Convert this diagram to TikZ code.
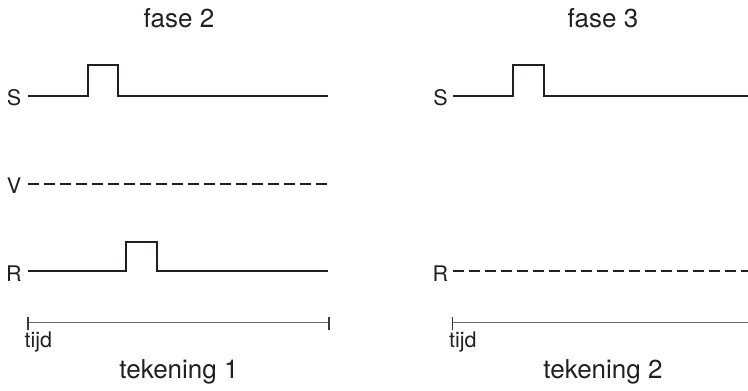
\documentclass[tikz,border=0pt]{standalone}
\usepackage{fontspec}
\setmainfont{TeX Gyre Heros}
\definecolor{ink}{HTML}{231F20}
\definecolor{axisgray}{HTML}{6E6E6E}
\definecolor{tickgray}{HTML}{3A3A3A}
\begin{document}
\begin{tikzpicture}[x=1pt,y=-1pt,
  signal/.style={draw=ink,line width=2pt,line join=miter},
  idle/.style={draw=ink,line width=2pt,dash pattern=on 11pt off 5pt},
  timeaxis/.style={draw=axisgray,line width=1.6pt},
  tickmark/.style={draw=tickgray,line width=1.4pt},
  chan/.style={text=ink,font=\fontsize{21.5}{23}\selectfont,inner sep=0pt},
  title/.style={text=ink,font=\fontsize{26}{28}\selectfont,inner sep=0pt},
  timelabel/.style={text=ink,font=\fontsize{21.5}{23}\selectfont,inner sep=0pt,anchor=base west}]
\useasboundingbox (0,0) rectangle (748,391);

% ---------- tekening 1 ----------
\node[title] (t1) at (179,18) {fase 2};
\node[chan] (s1) at (14,97.5) {S};
\node[chan] (v1) at (14,186) {V};
\node[chan] (r1) at (14,273.5) {R};

\coordinate (s1a) at (28,96);
\coordinate (s1b) at (88,96);
\coordinate (s1c) at (88,65);
\coordinate (s1d) at (118,65);
\coordinate (s1e) at (118,96);
\coordinate (s1f) at (328,96);
\draw[signal] (s1a) -- (s1b) -- (s1c) -- (s1d) -- (s1e) -- (s1f);

\coordinate (v1a) at (28,184);
\coordinate (v1b) at (328,184);
\draw[idle] (v1a) -- (v1b);

\coordinate (r1a) at (28,271);
\coordinate (r1b) at (125.5,271);
\coordinate (r1c) at (125.5,242);
\coordinate (r1d) at (156.5,242);
\coordinate (r1e) at (156.5,271);
\coordinate (r1f) at (328,271);
\draw[signal] (r1a) -- (r1b) -- (r1c) -- (r1d) -- (r1e) -- (r1f);

\coordinate (ax1a) at (28,322.5);
\coordinate (ax1b) at (329,322.5);
\draw[timeaxis] (ax1a) -- (ax1b);
\draw[tickmark] ([yshift=-7pt]ax1a) -- ([yshift=6pt]ax1a);
\draw[tickmark] ([yshift=-7pt]ax1b) -- ([yshift=6pt]ax1b);
\node[timelabel] (tijd1) at (24.5,347.5) {tijd};
\node[title] (cap1) at (179,372) {tekening 1};

% ---------- tekening 2 ----------
\node[title] (t2) at (603,18) {fase 3};
\node[chan] (s2) at (440.5,98) {S};
\node[chan] (r2) at (440.5,273.5) {R};

\coordinate (s2a) at (453,96);
\coordinate (s2b) at (513,96);
\coordinate (s2c) at (513,65);
\coordinate (s2d) at (544,65);
\coordinate (s2e) at (544,96);
\coordinate (s2f) at (748,96);
\draw[signal] (s2a) -- (s2b) -- (s2c) -- (s2d) -- (s2e) -- (s2f);

\coordinate (r2a) at (453,271);
\coordinate (r2b) at (748,271);
\draw[idle] (r2a) -- (r2b);

\coordinate (ax2a) at (452.5,322.5);
\coordinate (ax2b) at (748,322.5);
\draw[timeaxis] (ax2a) -- (ax2b);
\draw[tickmark] ([yshift=-7pt]ax2a) -- ([yshift=6pt]ax2a);
\node[timelabel] (tijd2) at (449,347.5) {tijd};
\node[title] (cap2) at (603,372) {tekening 2};
\end{tikzpicture}
\end{document}
